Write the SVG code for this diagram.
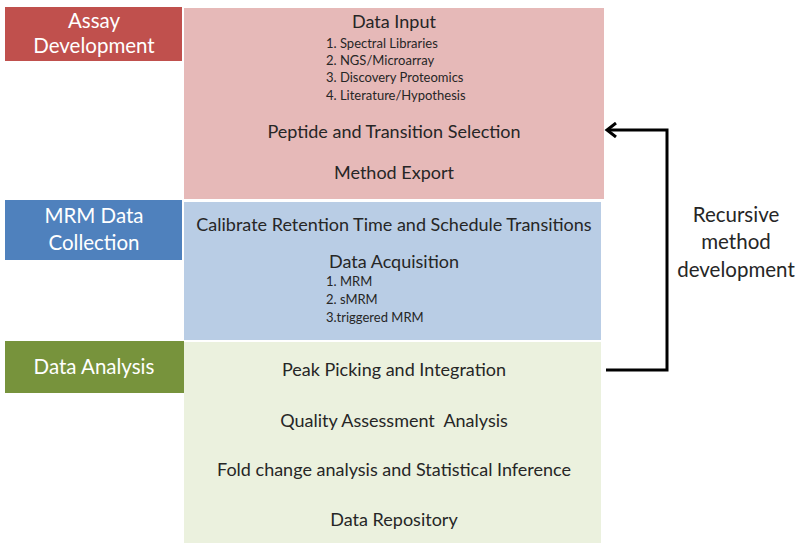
<svg xmlns="http://www.w3.org/2000/svg" width="800" height="554" viewBox="0 0 800 554">
<style>
text{font-family:Lato,"Open Sans","Liberation Sans",sans-serif;fill:#262626;white-space:pre}
.lab{fill:#ffffff;font-size:20.5px;text-anchor:middle}
.h{font-size:18px;text-anchor:middle}
.li{font-size:13px}
.r{font-size:20.5px;text-anchor:middle}
</style>
<defs>
<marker id="ah" markerWidth="14" markerHeight="16" refX="11" refY="8" orient="auto" markerUnits="userSpaceOnUse">
<path d="M2,1 L11,8 L2,15" fill="none" stroke="#000" stroke-width="3"/>
</marker>
</defs>
<rect width="800" height="554" fill="#fff"/>
<g id="assay-dev"><rect x="5" y="7" width="177" height="54" fill="#C0504D"/><text class="lab" x="94" y="28">Assay</text><text class="lab" x="94" y="53">Development</text></g>
<g id="assay-box"><rect x="184" y="8" width="420" height="191" fill="#E6B9B8"/>
<text class="h" x="394" y="28">Data Input</text>
<text class="li" x="326" y="48">1. Spectral Libraries</text>
<text class="li" x="326" y="65">2. NGS/Microarray</text>
<text class="li" x="326" y="82">3. Discovery Proteomics</text>
<text class="li" x="326" y="100">4. Literature/Hypothesis</text>
<text class="h" x="394" y="138">Peptide and Transition Selection</text>
<text class="h" x="394" y="179">Method Export</text></g>
<g id="mrm"><rect x="5" y="200" width="177" height="60" fill="#4F81BD"/><text class="lab" x="94" y="223">MRM Data</text><text class="lab" x="94" y="250">Collection</text></g>
<g id="mrm-box"><rect x="184" y="202" width="417" height="138" fill="#B9CDE5"/>
<text class="h" x="394" y="231">Calibrate Retention Time and Schedule Transitions</text>
<text class="h" x="394" y="268">Data Acquisition</text>
<text class="li" x="326" y="286">1. MRM</text>
<text class="li" x="326" y="304">2. sMRM</text>
<text class="li" x="326" y="322">3.triggered MRM</text></g>
<g id="analysis"><rect x="5" y="341" width="179" height="52" fill="#77933C"/><text class="lab" x="94" y="374">Data Analysis</text></g>
<g id="analysis-box"><rect x="184" y="342" width="417" height="201" fill="#EBF1DE"/>
<text class="h" x="394" y="376">Peak Picking and Integration</text>
<text class="h" x="394" y="427" xml:space="preserve">Quality Assessment  Analysis</text>
<text class="h" x="394" y="476">Fold change analysis and Statistical Inference</text>
<text class="h" x="394" y="526">Data Repository</text></g>
<g id="connectors"><path d="M606,370 H667 V130 H607" fill="none" stroke="#000" stroke-width="3" marker-end="url(#ah)"/></g>
<g id="recursive-label"><text class="r" x="736" y="222">Recursive</text><text class="r" x="736" y="249">method</text><text class="r" x="736" y="277">development</text></g>
</svg>
